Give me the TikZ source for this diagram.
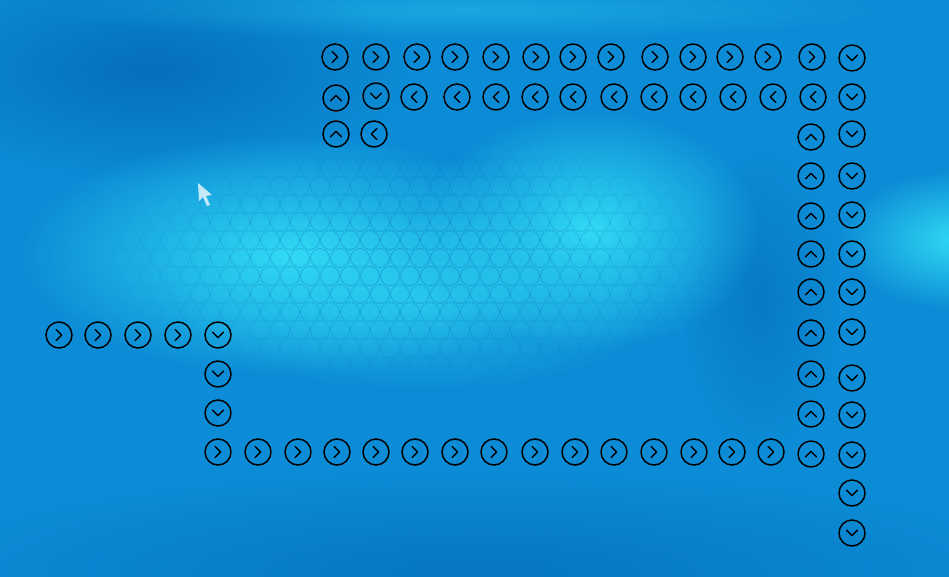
\documentclass[tikz,border=0pt]{standalone}
\usetikzlibrary{fadings}

\definecolor{seablue}{RGB}{12,140,214}
\definecolor{deepblue}{RGB}{4,102,182}
\definecolor{glowcyan}{RGB}{50,218,244}
\tikzfading[name=softblob, inner color=transparent!0, outer color=transparent!100]

\begin{document}
\begin{tikzpicture}[x=0.02cm, y=-0.02cm,
    cell/.style={circle, draw=black, line width=0.85pt, minimum size=0.52cm, inner sep=0pt},
    chev/.style={draw=black, line width=0.75pt, line cap=round, line join=round},
    goright/.style={cell, path picture={\draw[chev] ([shift={(-1.6pt,3.1pt)}]path picture bounding box.center) -- ++(3.1pt,-3.1pt) -- ++(-3.1pt,-3.1pt);}},
    goleft/.style={cell, path picture={\draw[chev] ([shift={(1.6pt,3.1pt)}]path picture bounding box.center) -- ++(-3.1pt,-3.1pt) -- ++(3.1pt,-3.1pt);}},
    goup/.style={cell, path picture={\draw[chev] ([shift={(-3.1pt,-1.6pt)}]path picture bounding box.center) -- ++(3.1pt,3.1pt) -- ++(3.1pt,-3.1pt);}},
    godown/.style={cell, path picture={\draw[chev] ([shift={(-3.1pt,1.6pt)}]path picture bounding box.center) -- ++(3.1pt,-3.1pt) -- ++(3.1pt,3.1pt);}},
    blob/.style={path fading=softblob}
]

% Background
\useasboundingbox (0,0) rectangle (949,577);
\fill[seablue] (0,0) rectangle (949,577);
\fill[deepblue, blob, opacity=0.8] (150,70) ellipse (260 and 110);
\fill[deepblue, blob, opacity=0.6] (480,570) ellipse (560 and 100);
\fill[deepblue, blob, opacity=0.5] (760,300) ellipse (80 and 150);
\fill[glowcyan, blob] (290,255) ellipse (270 and 120);
\fill[glowcyan, blob] (590,230) ellipse (170 and 120);
\fill[glowcyan, blob, opacity=0.6] (420,300) ellipse (250 and 90);
\fill[glowcyan, blob] (960,240) ellipse (120 and 70);
\fill[glowcyan, blob, opacity=0.35] (470,10) ellipse (420 and 30);

% Cell texture
\foreach \r in {0,...,12}
  \foreach \c in {0,...,30} {
    \pgfmathsetmacro\hx{120+\c*20+mod(\r,2)*10}
    \pgfmathsetmacro\hy{150+\r*18}
    \pgfmathsetmacro\op{max(0,0.4*(1-((\hx-420)/320)^2-((\hy-260)/125)^2))}
    \draw[deepblue, line width=0.4pt, opacity=\op] (\hx,\hy) circle (9.5);
  }

% Cursor
\fill[white, opacity=0.75] (198,183) -- (199,201) -- (203,197) -- (207,206) -- (210,205) -- (206,196) -- (212,195) -- cycle;

% Upper row
\foreach \x [count=\i] in {335,376,417,455,496,536,573,611,655,693,730,768,812}
  \node[goright] (top\i) at (\x,57) {};
\node[goup] (back0) at (336,98) {};
\node[godown] (turn) at (376,96) {};
\foreach \x [count=\i] in {414,457,496,535,573,614,654,693,733,773,813}
  \node[goleft] (back\i) at (\x,97) {};
\node[goup] (edge) at (336,134) {};
\node[goleft] (edgel) at (374,134) {};

% Right columns
\foreach \y [count=\i] in {58,97,134,176,215,254,292,332,378,415,455,493,533}
  \node[godown] (outer\i) at (852,\y) {};
\foreach \y [count=\i] in {137,176,216,254,292,333,374,414,454}
  \node[goup] (inner\i) at (811,\y) {};

% Left entry
\foreach \x [count=\i] in {59,98,138,178}
  \node[goright] (entry\i) at (\x,335) {};
\foreach \y [count=\i] in {335,374,413}
  \node[godown] (drop\i) at (218,\y) {};

% Lower row
\foreach \x [count=\i] in {218,258,298,337,376,415,455,494,535,575,614,654,694,732,771}
  \node[goright] (low\i) at (\x,452) {};

\end{tikzpicture}
\end{document}
